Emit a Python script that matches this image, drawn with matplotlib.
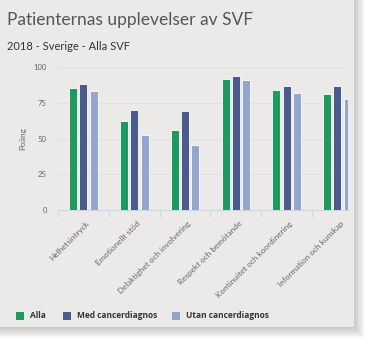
import matplotlib
matplotlib.use("Agg")
import matplotlib.pyplot as plt
from matplotlib.patches import Rectangle
import numpy as np

categories = ["Helhetsintryck", "Emotionellt stöd", "Delaktighet och involvering",
              "Respekt och bemötande", "Kontinuitet och koordinering", "Information och kunskap"]
series_names = ["Alla", "Med cancerdiagnos", "Utan cancerdiagnos"]
alla = [85.5, 62.5, 56.2, 91.8, 84.1, 81.3]
med = [88.3, 70.1, 69.2, 93.7, 86.7, 86.7]
utan = [83.2, 52.7, 45.5, 90.9, 81.8, 77.4]
colors = ["#1e9a5f", "#4b5b8c", "#95a6cd"]
yticks = [0, 25, 50, 75, 100]

W, H = 380, 352
fig = plt.figure(figsize=(W / 100, H / 100), dpi=100)
fig.patch.set_facecolor("white")

def px(x0, y0, w, h):
    return [x0 / W, 1 - (y0 + h) / H, w / W, h / H]

card_bg = "#ebeae8"
# soft shadow
for i in range(8):
    off = 1 + i * 1.4
    fig.patches.append(Rectangle((0, 1 - (327 + off) / H), (354 + off) / W, (327 + off) / H,
                                 transform=fig.transFigure, facecolor="black", alpha=0.028,
                                 edgecolor="none", zorder=-3))
fig.patches.append(Rectangle((0, 1 - 327 / H), 354 / W, 327 / H, transform=fig.transFigure,
                             facecolor=card_bg, edgecolor="none", zorder=-2))

fam = ["Lato", "DejaVu Sans"]
fig.text(7 / W, 1 - 25 / H, "Patienternas upplevelser av SVF", fontsize=12.5, color="#555555",
         family=fam, fontweight="normal", ha="left", va="baseline")
fig.text(7 / W, 1 - 50 / H, "2018 - Sverige - Alla SVF", fontsize=8, color="#333333",
         family=fam, ha="left", va="baseline")

step = 50.8
ax = fig.add_axes(px(58, 67, 290, 143))
ax.set_facecolor("none")
x = np.arange(len(categories))
bw = 8 / step
pitch = 10.3 / step
for k, (vals, c) in enumerate(zip([alla, med, utan], colors)):
    ax.bar(x + (k - 1) * pitch, vals, width=bw, color=c, edgecolor="white", linewidth=0.6, zorder=3)

ax.set_xlim(-0.5, -0.5 + 290 / step)
ax.set_ylim(0, 100)
ax.set_yticks(yticks)
ax.set_yticklabels([str(t) for t in yticks], fontsize=5.5, color="#666666", family=fam)
ax.tick_params(axis="y", length=0, pad=8)
ax.grid(axis="y", color="#e0dfdc", linewidth=0.7, zorder=0)
for s in ["top", "right", "left"]:
    ax.spines[s].set_visible(False)
ax.spines["bottom"].set_color("#ccd6eb")
ax.spines["bottom"].set_linewidth(0.8)
ax.set_xticks(np.arange(len(categories)) - 0.5, minor=False)
ax.set_xticklabels([])
ax.tick_params(axis="x", length=5, color="#ccd6eb", width=0.8)
for i, lab in enumerate(categories):
    ax.text(i + 0.05, -7, lab, rotation=45, ha="right", va="top", rotation_mode="anchor",
            fontsize=5.9, color="#666666", family=fam, transform=ax.transData, clip_on=False)
ax.set_ylabel("Poäng", fontsize=6, color="#666666", family=fam, labelpad=5)

# legend
leg_x = [16, 63, 172]
for lx, name, c in zip(leg_x, series_names, colors):
    fig.patches.append(Rectangle((lx / W, 1 - 320 / H), 8 / W, 8 / H, transform=fig.transFigure,
                                 facecolor=c, edgecolor="none"))
    fig.text((lx + 14) / W, 1 - 316 / H, name, fontsize=6, fontweight="bold", color="#333333",
             family=["Open Sans", "DejaVu Sans"], ha="left", va="center")

fig.savefig("out.png", dpi=100, facecolor="white")
